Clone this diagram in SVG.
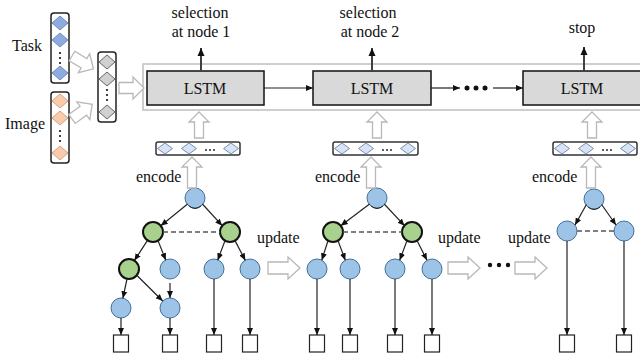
<svg xmlns="http://www.w3.org/2000/svg" width="640" height="358" viewBox="0 0 640 358">
<defs>
<style>
text{font-family:"Liberation Serif","Times New Roman",serif;font-size:16px;fill:#111}
.col{fill:#fff;stroke:#222;stroke-width:1.5}
.dt{fill:#8faadc;stroke:#6d8cc4;stroke-width:1}
.di{fill:#f8cbad;stroke:#d9a07a;stroke-width:1}
.dg{fill:#d0d0d0;stroke:#666;stroke-width:1}
.df{fill:#dae3f3;stroke:#6f8fb8;stroke-width:1}
.row{fill:#fff;stroke:#333;stroke-width:1.5}
.hol{fill:#fff;stroke:#b8b8b8;stroke-width:1.3}
.lstm{fill:#d9d9d9;stroke:#111;stroke-width:1.5}
.outer{fill:none;stroke:#bfbfbf;stroke-width:1.5}
.blue{fill:#9dc3e6;stroke:#41719c;stroke-width:1}
.green{fill:#a9d18e;stroke:#111;stroke-width:2}
.leaf{fill:#fff;stroke:#222;stroke-width:1.2}
.e{stroke:#222;stroke-width:1.2;fill:none;marker-end:url(#ah)}
.eg{stroke:#404040;stroke-width:2;fill:none;marker-end:url(#ahg)}
.dash{stroke:#555;stroke-width:1.5;stroke-dasharray:5 3;fill:none}
.dot{fill:#111}
</style>
<marker id="ah" markerWidth="8" markerHeight="8" refX="7" refY="4" orient="auto" markerUnits="userSpaceOnUse"><path d="M0,1 L7,4 L0,7 Z" fill="#111"/></marker>
<marker id="ahg" markerWidth="9" markerHeight="9" refX="8" refY="4.5" orient="auto" markerUnits="userSpaceOnUse"><path d="M0,1 L8,4.5 L0,8 Z" fill="#111"/></marker>
<path id="upA" d="M0,0 L10,10 L4.5,10 L4.5,26 L-4.5,26 L-4.5,10 L-10,10 Z"/>
<path id="upB" d="M0,0 L10,10 L4.5,10 L4.5,31 L-4.5,31 L-4.5,10 L-10,10 Z"/>
<path id="rtA" d="M0,-6 L20,-6 L20,-11 L32,0 L20,11 L20,6 L0,6 Z"/>
<path id="rtS" d="M0,-5.5 L14,-5.5 L14,-11 L25,0 L14,11 L14,5.5 L0,5.5 Z"/>
<path id="dg" d="M-8,0 L0,-7 L8,0 L0,7 Z"/>
<path id="df" d="M-7.5,0 L0,-5.5 L7.5,0 L0,5.5 Z"/>
</defs>
<rect width="640" height="358" fill="#fff"/>

<g id="task">
<text x="12" y="51">Task</text>
<rect class="col" x="51" y="13" width="18" height="70" rx="3"/>
<use href="#dg" x="60" y="23" class="dt"/>
<use href="#dg" x="60" y="40" class="dt"/>
<circle class="dot" cx="60" cy="53" r="1.1"/><circle class="dot" cx="60" cy="58" r="1.1"/><circle class="dot" cx="60" cy="63" r="1.1"/>
<use href="#dg" x="60" y="73" class="dt"/>
</g>
<g id="image">
<text x="5" y="129">Image</text>
<rect class="col" x="51" y="92" width="18" height="71" rx="3"/>
<use href="#dg" x="60" y="101" class="di"/>
<use href="#dg" x="60" y="118" class="di"/>
<circle class="dot" cx="60" cy="131" r="1.1"/><circle class="dot" cx="60" cy="136" r="1.1"/><circle class="dot" cx="60" cy="141" r="1.1"/>
<use href="#dg" x="60" y="153" class="di"/>
</g>
<g id="merged">
<rect class="col" x="98" y="52" width="18" height="70" rx="3"/>
<use href="#dg" x="107" y="62" class="dg"/>
<use href="#dg" x="107" y="79" class="dg"/>
<circle class="dot" cx="107" cy="90" r="1.1"/><circle class="dot" cx="107" cy="95" r="1.1"/><circle class="dot" cx="107" cy="100" r="1.1"/>
<use href="#dg" x="107" y="112" class="dg"/>
</g>

<g id="lstm-chain">
<rect class="outer" x="143" y="64" width="510" height="46"/>
</g>
<g id="lstm1">
<rect class="lstm" x="147" y="71" width="117" height="34"/>
<text x="205" y="94" text-anchor="middle">LSTM</text>
<text x="200" y="18" text-anchor="middle">selection</text>
<text x="201" y="37" text-anchor="middle">at node 1</text>
</g>
<g id="lstm2">
<rect class="lstm" x="313" y="71" width="118" height="34"/>
<text x="372" y="94" text-anchor="middle">LSTM</text>
<text x="368" y="18" text-anchor="middle">selection</text>
<text x="370" y="37" text-anchor="middle">at node 2</text>
</g>
<g id="lstm3">
<rect class="lstm" x="523" y="71" width="125" height="34"/>
<text x="582" y="94" text-anchor="middle">LSTM</text>
<text x="582" y="33" text-anchor="middle">stop</text>
</g>

<g id="feat1">
<rect class="row" x="156" y="142" width="84" height="13" rx="2"/>
<use href="#df" x="165" y="148.5" class="df"/><use href="#df" x="189" y="148.5" class="df"/>
<circle class="dot" cx="206" cy="150" r="0.9"/><circle class="dot" cx="210" cy="150" r="0.9"/><circle class="dot" cx="214" cy="150" r="0.9"/>
<use href="#df" x="231" y="148.5" class="df"/>
</g>
<g id="feat2">
<rect class="row" x="333" y="142" width="85" height="13" rx="2"/>
<use href="#df" x="342" y="148.5" class="df"/><use href="#df" x="366" y="148.5" class="df"/>
<circle class="dot" cx="383" cy="150" r="0.9"/><circle class="dot" cx="387" cy="150" r="0.9"/><circle class="dot" cx="391" cy="150" r="0.9"/>
<use href="#df" x="408" y="148.5" class="df"/>
</g>
<g id="feat3">
<rect class="row" x="553" y="142" width="84" height="13" rx="2"/>
<use href="#df" x="562" y="148.5" class="df"/><use href="#df" x="586" y="148.5" class="df"/>
<circle class="dot" cx="603" cy="150" r="0.9"/><circle class="dot" cx="607" cy="150" r="0.9"/><circle class="dot" cx="611" cy="150" r="0.9"/>
<use href="#df" x="628" y="148.5" class="df"/>
</g>

<g id="labels">
<text x="136" y="182">encode</text>
<text x="315" y="182">encode</text>
<text x="532" y="182">encode</text>
<text x="257" y="243">update</text>
<text x="438" y="243">update</text>
<text x="508" y="243">update</text>
</g>

<g id="tree1">
<circle id="t1-root" class="blue" cx="195" cy="198" r="10"/>
<circle id="t1-a" class="green" cx="153" cy="232" r="10"/>
<circle id="t1-b" class="green" cx="230" cy="232" r="10"/>
<circle id="t1-c" class="green" cx="129" cy="269" r="10"/>
<circle id="t1-d" class="blue" cx="170" cy="269" r="10"/>
<circle id="t1-e" class="blue" cx="214" cy="269" r="10"/>
<circle id="t1-f" class="blue" cx="250" cy="269" r="10"/>
<circle id="t1-g" class="blue" cx="121" cy="308" r="10"/>
<circle id="t1-h" class="blue" cx="170" cy="308" r="10"/>
<rect class="leaf" x="113.5" y="335" width="15" height="17"/>
<rect class="leaf" x="162.5" y="335" width="15" height="17"/>
<rect class="leaf" x="206.5" y="335" width="15" height="17"/>
<rect class="leaf" x="242.5" y="335" width="15" height="17"/>
</g>
<g id="tree2">
<circle id="t2-root" class="blue" cx="377" cy="198" r="10"/>
<circle id="t2-a" class="green" cx="333" cy="232" r="10"/>
<circle id="t2-b" class="green" cx="412" cy="232" r="10"/>
<circle class="blue" cx="317" cy="269" r="10"/>
<circle class="blue" cx="350" cy="269" r="10"/>
<circle class="blue" cx="395" cy="269" r="10"/>
<circle class="blue" cx="432" cy="269" r="10"/>
<rect class="leaf" x="309.5" y="335" width="15" height="17"/>
<rect class="leaf" x="342.5" y="335" width="15" height="17"/>
<rect class="leaf" x="387.5" y="335" width="15" height="17"/>
<rect class="leaf" x="424.5" y="335" width="15" height="17"/>
</g>
<g id="tree3">
<circle id="t3-root" class="blue" cx="594" cy="199" r="10"/>
<circle class="blue" cx="567" cy="231" r="10"/>
<circle class="blue" cx="624" cy="231" r="10"/>
<rect class="leaf" x="559.5" y="335" width="15" height="17"/>
<rect class="leaf" x="616.5" y="335" width="15" height="17"/>
</g>

<g id="connectors">
<use href="#rtS" class="hol" transform="translate(72,56) rotate(31)"/>
<use href="#rtS" class="hol" transform="translate(72,119) rotate(-36)"/>
<use href="#rtS" class="hol" transform="translate(119,88)"/>
<use href="#upA" class="hol" x="199" y="112"/>
<use href="#upB" class="hol" x="192" y="157"/>
<use href="#upA" class="hol" x="377" y="112"/>
<use href="#upB" class="hol" x="371" y="157"/>
<use href="#upA" class="hol" x="592" y="112"/>
<use href="#upB" class="hol" x="591" y="157"/>
<use href="#rtA" class="hol" x="268" y="268"/>
<use href="#rtA" class="hol" x="448" y="268"/>
<use href="#rtA" class="hol" x="515" y="268"/>
<circle class="dot" cx="490" cy="265" r="2.2"/><circle class="dot" cx="499" cy="265" r="2.2"/><circle class="dot" cx="508" cy="265" r="2.2"/>
<line class="e" x1="264" y1="88" x2="313" y2="88"/>
<line class="e" x1="431" y1="88" x2="460" y2="88"/>
<circle class="dot" cx="467" cy="88" r="2.5"/><circle class="dot" cx="476" cy="88" r="2.5"/><circle class="dot" cx="485" cy="88" r="2.5"/>
<line class="e" x1="493" y1="88" x2="523" y2="88"/>
<line class="eg" x1="201" y1="71" x2="201" y2="48"/>
<line class="eg" x1="372" y1="71" x2="372" y2="48"/>
<line class="eg" x1="584" y1="71" x2="584" y2="47"/>
<line class="e" x1="187.6" y1="204" x2="160.8" y2="225.7"/>
<line class="e" x1="202.4" y1="204" x2="222.2" y2="225.7"/>
<path d="M189,206 Q195,211 201,206" fill="none" stroke="#222" stroke-width="1"/>
<line class="dash" x1="163" y1="232" x2="220" y2="232"/>
<line class="e" x1="147.5" y1="240.3" x2="134.4" y2="260.6"/>
<line class="e" x1="158" y1="240.6" x2="165.8" y2="260.2"/>
<line class="e" x1="225" y1="240.6" x2="217.7" y2="260.2"/>
<line class="e" x1="235" y1="240.6" x2="245.3" y2="260.4"/>
<line class="e" x1="127" y1="279" x2="122.9" y2="298.2"/>
<line class="e" x1="137" y1="275.5" x2="162.7" y2="301"/>
<line class="e" x1="170" y1="283" x2="170" y2="298"/>
<line class="e" x1="121" y1="318" x2="121" y2="335"/>
<line class="e" x1="170" y1="318" x2="170" y2="335"/>
<line class="e" x1="214" y1="279" x2="214" y2="335"/>
<line class="e" x1="250" y1="279" x2="250" y2="335"/>
<line class="e" x1="369.6" y1="204" x2="340.8" y2="225.7"/>
<line class="e" x1="384.2" y1="204" x2="404.5" y2="225.7"/>
<path d="M371,206 Q377,211 383,206" fill="none" stroke="#222" stroke-width="1"/>
<line class="dash" x1="343" y1="232" x2="402" y2="232"/>
<line class="e" x1="328" y1="240.6" x2="321.8" y2="260.2"/>
<line class="e" x1="338" y1="240.6" x2="345.3" y2="260.2"/>
<line class="e" x1="407" y1="240.6" x2="399.7" y2="260.2"/>
<line class="e" x1="417" y1="240.6" x2="427" y2="260.2"/>
<line class="e" x1="317" y1="279" x2="317" y2="335"/>
<line class="e" x1="350" y1="279" x2="350" y2="335"/>
<line class="e" x1="395" y1="279" x2="395" y2="335"/>
<line class="e" x1="432" y1="279" x2="432" y2="335"/>
<line class="e" x1="586.4" y1="204.5" x2="575" y2="225"/>
<line class="e" x1="601.6" y1="204.5" x2="616" y2="225"/>
<path d="M588,207 Q594,212 600,207" fill="none" stroke="#222" stroke-width="1"/>
<line class="dash" x1="577" y1="231" x2="614" y2="231"/>
<line class="e" x1="567" y1="241" x2="567" y2="335"/>
<line class="e" x1="624" y1="241" x2="624" y2="335"/>
</g>
</svg>
